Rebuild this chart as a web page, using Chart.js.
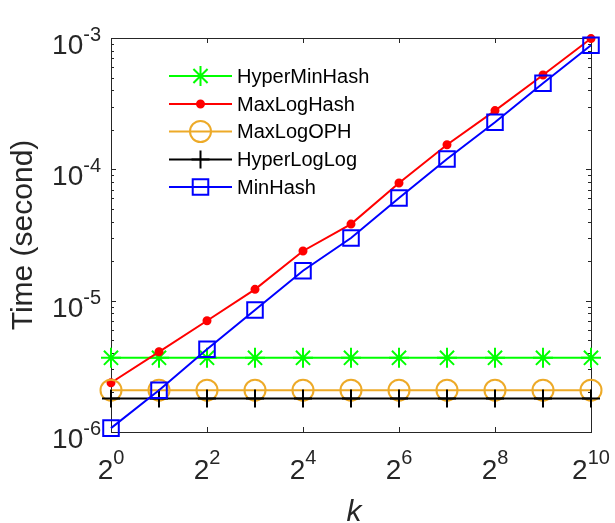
<!DOCTYPE html>
<html>
<head>
<meta charset="utf-8">
<script src="https://cdn.jsdelivr.net/npm/chart.js@4/dist/chart.umd.min.js"></script>
<style>
  html, body { margin: 0; padding: 0; background: #fff; }
  canvas { display: block; }
</style>
</head>
<body>
<canvas id="timeChart" width="615" height="523"></canvas>
<script>
// k values (x axis, plotted on a log2 scale)
const kValues = [1, 2, 4, 8, 16, 32, 64, 128, 256, 512, 1024];

// time in seconds
const hyperMinHash = [3.67e-6, 3.67e-6, 3.67e-6, 3.67e-6, 3.67e-6, 3.67e-6, 3.67e-6, 3.67e-6, 3.67e-6, 3.67e-6, 3.67e-6];
const maxLogHash   = [2.37e-6, 4.08e-6, 7.03e-6, 1.22e-5, 2.39e-5, 3.83e-5, 7.87e-5, 1.54e-4, 2.80e-4, 5.23e-4, 9.90e-4];
const maxLogOPH    = [2.08e-6, 2.08e-6, 2.08e-6, 2.08e-6, 2.08e-6, 2.08e-6, 2.08e-6, 2.08e-6, 2.08e-6, 2.08e-6, 2.08e-6];
const hyperLogLog  = [1.80e-6, 1.80e-6, 1.80e-6, 1.80e-6, 1.80e-6, 1.80e-6, 1.80e-6, 1.80e-6, 1.80e-6, 1.80e-6, 1.80e-6];
const minHash      = [1.07e-6, 2.08e-6, 4.26e-6, 8.48e-6, 1.69e-5, 3.00e-5, 6.04e-5, 1.20e-4, 2.28e-4, 4.52e-4, 8.80e-4];

// tick labels: base and exponent
const xTickValues = [1, 4, 16, 64, 256, 1024];
const xTickExps   = ['0', '2', '4', '6', '8', '10'];
const yTickValues = [1e-6, 1e-5, 1e-4, 1e-3];
const yTickExps   = ['-6', '-5', '-4', '-3'];

const seriesNames = ['HyperMinHash', 'MaxLogHash', 'MaxLogOPH', 'HyperLogLog', 'MinHash'];

const FONT = '"Liberation Sans", Arial, Helvetica, sans-serif';
const AXIS_COLOR = '#262626';

function points(ys) {
    return kValues.map((k, i) => ({ x: k, y: ys[i] }));
}

function makeSet(label, ys, color, style, radius, fill, order) {
    return {
        label: label,
        data: points(ys),
        borderColor: color,
        borderWidth: 2,
        pointStyle: style,
        pointRadius: radius,
        pointBorderColor: color,
        pointBackgroundColor: fill,
        pointBorderWidth: 2,
        tension: 0,
        fill: false,
        clip: false,
        order: order
    };
}

const datasets = [
    makeSet(seriesNames[0], hyperMinHash, '#00ff00', 'star', 10, 'rgba(0,0,0,0)', 5),
    makeSet(seriesNames[1], maxLogHash, '#ff0000', 'circle', 3.5, '#ff0000', 4),
    makeSet(seriesNames[2], maxLogOPH, 'rgb(237,170,40)', 'circle', 10.5, 'rgba(0,0,0,0)', 3),
    makeSet(seriesNames[3], hyperLogLog, '#000000', 'cross', 9, 'rgba(0,0,0,0)', 2),
    makeSet(seriesNames[4], minHash, '#0000ff', 'rect', 11, 'rgba(0,0,0,0)', 1)
];

function drawPowerLabel(ctx, base, exp, x, baseY, expY, align) {
    ctx.font = '28px ' + FONT;
    const wb = ctx.measureText(base).width;
    ctx.font = '20px ' + FONT;
    const we = ctx.measureText(exp).width;
    let left = x;
    if (align === 'right') left = x - wb - we;
    if (align === 'center') left = x - (wb + we) / 2;
    ctx.textAlign = 'left';
    ctx.textBaseline = 'alphabetic';
    ctx.fillStyle = '#262626';
    ctx.font = '28px ' + FONT;
    ctx.fillText(base, left, baseY);
    ctx.font = '20px ' + FONT;
    ctx.fillText(exp, left + wb, expY);
}

const axesPlugin = {
    id: 'matlabAxes',
    beforeDatasetsDraw(chart) {
        const ctx = chart.ctx;
        const a = chart.chartArea;
        const xs = chart.scales.x;
        const ys = chart.scales.y;
        ctx.save();
        ctx.strokeStyle = AXIS_COLOR;
        ctx.lineWidth = 1;
        ctx.strokeRect(a.left + 0.5, a.top + 0.5, a.right - a.left, a.bottom - a.top);
        ctx.beginPath();
        // x ticks on bottom and top, pointing inwards
        xTickValues.forEach(v => {
            const px = Math.round(xs.getPixelForValue(v)) + 0.5;
            ctx.moveTo(px, a.bottom); ctx.lineTo(px, a.bottom - 5);
            ctx.moveTo(px, a.top); ctx.lineTo(px, a.top + 5);
        });
        // y major and minor ticks on left and right
        for (let d = -6; d <= -3; d++) {
            for (let m = 1; m <= 9; m++) {
                const v = m * Math.pow(10, d);
                if (v > 1.0001e-3) break;
                const py = Math.round(ys.getPixelForValue(v)) + 0.5;
                const len = m === 1 ? 5 : 3;
                ctx.moveTo(a.left, py); ctx.lineTo(a.left + len, py);
                ctx.moveTo(a.right, py); ctx.lineTo(a.right - len, py);
            }
        }
        ctx.stroke();
        ctx.restore();
    },
    afterDraw(chart) {
        const ctx = chart.ctx;
        const a = chart.chartArea;
        const xs = chart.scales.x;
        const ys = chart.scales.y;
        ctx.save();

        // tick labels
        xTickValues.forEach((v, i) => {
            const px = xs.getPixelForValue(v);
            drawPowerLabel(ctx, '2', xTickExps[i], px, a.bottom + 47, a.bottom + 32, 'center');
        });
        yTickValues.forEach((v, i) => {
            const py = ys.getPixelForValue(v);
            drawPowerLabel(ctx, '10', yTickExps[i], 101, py + 16, py + 3, 'right');
        });

        // axis titles
        ctx.fillStyle = '#262626';
        ctx.font = 'italic 30px ' + FONT;
        ctx.textAlign = 'center';
        ctx.textBaseline = 'alphabetic';
        ctx.fillText('k', (a.left + a.right) / 2 + 3, 521);

        ctx.save();
        ctx.translate(31.5, (a.top + a.bottom) / 2);
        ctx.rotate(-Math.PI / 2);
        ctx.font = '30px ' + FONT;
        ctx.fillText('Time (second)', 0, 0);
        ctx.restore();

        // legend: line + marker + name
        const rowY = [76, 104, 131.5, 159.5, 187];
        datasets.forEach((ds, i) => {
            const y = rowY[i];
            ctx.strokeStyle = ds.borderColor;
            ctx.lineWidth = 2;
            ctx.beginPath();
            ctx.moveTo(169, y);
            ctx.lineTo(232, y);
            ctx.stroke();
            ctx.fillStyle = ds.pointBackgroundColor;
            ctx.strokeStyle = ds.pointBorderColor;
            ctx.lineWidth = 2;
            Chart.helpers.drawPoint(ctx, {
                pointStyle: ds.pointStyle,
                radius: ds.pointRadius,
                rotation: 0,
                borderWidth: 2
            }, 200.5, y);
            ctx.fillStyle = '#000000';
            ctx.font = '20px ' + FONT;
            ctx.textAlign = 'left';
            ctx.textBaseline = 'middle';
            ctx.fillText(ds.label, 237, y + 1);
        });
        ctx.restore();
    }
};

const ctx = document.getElementById('timeChart').getContext('2d');
const timeChart = new Chart(ctx, {
    type: 'line',
    data: { datasets: datasets },
    options: {
        responsive: false,
        animation: false,
        events: [],
        layout: {
            padding: { left: 111, top: 38, right: 24, bottom: 91 }
        },
        plugins: {
            legend: { display: false },
            tooltip: { enabled: false }
        },
        scales: {
            x: {
                type: 'logarithmic',
                min: 1,
                max: 1024,
                display: false
            },
            y: {
                type: 'logarithmic',
                min: 1e-6,
                max: 1e-3,
                display: false
            }
        }
    },
    plugins: [axesPlugin]
});
</script>
</body>
</html>
